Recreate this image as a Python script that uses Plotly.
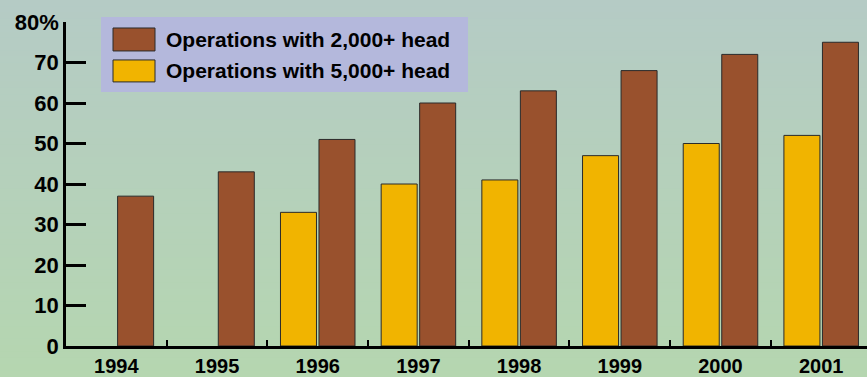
import plotly.graph_objects as go

years = ["1994", "1995", "1996", "1997", "1998", "1999", "2000", "2001"]
ops_2000 = [37, 43, 51, 60, 63, 68, 72, 75]
ops_5000 = [None, None, 33, 40, 41, 47, 50, 52]
series_names = ["Operations with 2,000+ head", "Operations with 5,000+ head"]
series_colors = ["#99512D", "#F1B400"]
y_tickvals = [0, 10, 20, 30, 40, 50, 60, 70, 80]
y_ticktext = ["0", "10", "20", "30", "40", "50", "60", "70", "80%"]

W, H = 867, 377
L, R, T, B = 66, 0, 22, 30.5
pw, ph = W - L - R, H - T - B

def px2x(px):
    return (px - L) / pw

def px2y(py):
    return (H - B - py) / ph

fig = go.Figure()
fig.add_trace(go.Bar(x=years, y=ops_5000, name=series_names[1],
                     marker=dict(color=series_colors[1], line=dict(color="#2a2a2a", width=1)),
                     showlegend=False))
fig.add_trace(go.Bar(x=years, y=ops_2000, name=series_names[0],
                     marker=dict(color=series_colors[0], line=dict(color="#2a2a2a", width=1)),
                     showlegend=False))

shapes = []
# background gradient
n = 60
top = (181, 203, 197)
bot = (181, 214, 176)
for i in range(n):
    f = i / (n - 1)
    c = tuple(round(top[k] + (bot[k] - top[k]) * f) for k in range(3))
    y0 = i * H / n
    y1 = (i + 1) * H / n + 1
    shapes.append(dict(type="rect", xref="paper", yref="paper", layer="below",
                       x0=px2x(-2), x1=px2x(W + 2), y0=px2y(y1), y1=px2y(y0),
                       fillcolor="rgb(%d,%d,%d)" % c, line=dict(width=0)))

# custom legend box
shapes.append(dict(type="rect", xref="paper", yref="paper",
                   x0=px2x(101), x1=px2x(468), y0=px2y(92), y1=px2y(17),
                   fillcolor="#B4B8DC", line=dict(width=0), layer="above"))
annotations = []
sw_y = [(28, 51), (60, 82)]
for (ya, yb), nm, col in zip(sw_y, series_names, series_colors):
    shapes.append(dict(type="rect", xref="paper", yref="paper",
                       x0=px2x(113), x1=px2x(155), y0=px2y(yb), y1=px2y(ya),
                       fillcolor=col, line=dict(color="#2a2a2a", width=1), layer="above"))
    annotations.append(dict(xref="paper", yref="paper", x=px2x(164), y=px2y((ya + yb) / 2),
                            text="<b>%s</b>" % nm, showarrow=False, xanchor="left", yanchor="middle",
                            font=dict(family="Liberation Sans, Arial", size=21, color="black")))

fig.update_layout(
    width=W, height=H,
    margin=dict(l=L, r=R, t=T, b=B, pad=0, autoexpand=False),
    paper_bgcolor="rgb(181,208,187)",
    plot_bgcolor="rgba(0,0,0,0)",
    barmode="group", bargap=0.235, bargroupgap=0.065,
    shapes=shapes, annotations=annotations,
    showlegend=False,
    font=dict(family="Liberation Sans, Arial", color="black"),
)
fig.update_xaxes(type="category", range=[-0.5, 7.455], showline=True, linecolor="black", linewidth=2.5,
                 ticks="inside", tickson="boundaries", ticklen=6, tickwidth=2, tickcolor="black",
                 showgrid=False, zeroline=False, automargin=False,
                 tickfont=dict(size=20, weight="bold", family="Liberation Sans, Arial"))
fig.update_yaxes(range=[0, 80], showline=True, linecolor="black", linewidth=2.5,
                 tickvals=y_tickvals, ticktext=y_ticktext,
                 ticks="inside", ticklen=20, tickwidth=2.5, tickcolor="black",
                 showgrid=False, zeroline=False, automargin=False,
                 tickfont=dict(size=22, weight="bold", family="Liberation Sans, Arial"))

fig.write_html("out.html")
